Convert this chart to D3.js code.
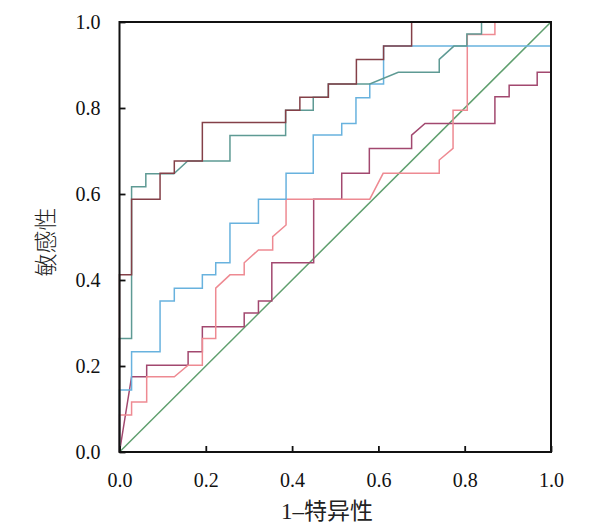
<!DOCTYPE html>
<html>
<head>
<meta charset="utf-8">
<script src="https://cdn.jsdelivr.net/npm/d3@7"></script>
<style>
  body { margin: 0; background: #fff; }
</style>
</head>
<body>
<svg id="drawing_region"></svg>
<script>
// ROC curves: x = 1 - specificity, y = sensitivity
const ticks = [0.0, 0.2, 0.4, 0.6, 0.8, 1.0];

const maroon_x = [0, 0, 0.028, 0.028, 0.094, 0.094, 0.127, 0.127, 0.192, 0.192, 0.385, 0.385, 0.418, 0.418, 0.484, 0.484, 0.549, 0.549, 0.612, 0.612, 0.677, 0.677, 1];
const maroon_y = [0, 0.412, 0.412, 0.588, 0.588, 0.648, 0.648, 0.677, 0.677, 0.766, 0.766, 0.795, 0.795, 0.825, 0.825, 0.856, 0.856, 0.913, 0.913, 0.944, 0.944, 1, 1];

const teal_x = [0, 0, 0.028, 0.028, 0.061, 0.061, 0.126, 0.158, 0.256, 0.256, 0.385, 0.385, 0.449, 0.449, 0.484, 0.484, 0.58, 0.646, 0.741, 0.741, 0.775, 0.805, 0.805, 0.839, 0.839, 1];
const teal_y = [0, 0.264, 0.264, 0.617, 0.617, 0.647, 0.647, 0.677, 0.677, 0.736, 0.736, 0.795, 0.795, 0.825, 0.825, 0.856, 0.856, 0.883, 0.883, 0.913, 0.944, 0.944, 0.972, 0.972, 1, 1];

const blue_x = [0, 0, 0.028, 0.028, 0.094, 0.094, 0.127, 0.127, 0.192, 0.192, 0.223, 0.223, 0.256, 0.256, 0.322, 0.322, 0.386, 0.386, 0.449, 0.449, 0.515, 0.515, 0.548, 0.548, 0.58, 0.58, 0.612, 0.612, 1];
const blue_y = [0, 0.144, 0.144, 0.233, 0.233, 0.351, 0.351, 0.381, 0.381, 0.412, 0.412, 0.44, 0.44, 0.532, 0.532, 0.588, 0.588, 0.648, 0.648, 0.737, 0.737, 0.764, 0.764, 0.824, 0.824, 0.856, 0.856, 0.944, 0.944];

const pink_x = [0, 0, 0.028, 0.028, 0.063, 0.063, 0.127, 0.159, 0.192, 0.192, 0.223, 0.223, 0.256, 0.289, 0.289, 0.322, 0.355, 0.355, 0.386, 0.386, 0.58, 0.611, 0.741, 0.741, 0.773, 0.773, 0.806, 0.806, 0.87, 0.87, 1];
const pink_y = [0, 0.086, 0.086, 0.116, 0.116, 0.175, 0.175, 0.202, 0.202, 0.264, 0.264, 0.381, 0.412, 0.412, 0.44, 0.47, 0.47, 0.501, 0.528, 0.588, 0.588, 0.648, 0.648, 0.679, 0.706, 0.795, 0.795, 0.971, 0.971, 1, 1];

const purple_x = [0, 0.028, 0.063, 0.063, 0.159, 0.159, 0.192, 0.192, 0.289, 0.289, 0.322, 0.322, 0.353, 0.353, 0.45, 0.45, 0.515, 0.515, 0.579, 0.579, 0.677, 0.677, 0.708, 0.87, 0.87, 0.903, 0.903, 0.968, 0.968, 1];
const purple_y = [0, 0.175, 0.175, 0.202, 0.202, 0.233, 0.233, 0.291, 0.291, 0.323, 0.323, 0.351, 0.351, 0.44, 0.44, 0.588, 0.588, 0.648, 0.648, 0.706, 0.706, 0.737, 0.764, 0.764, 0.826, 0.826, 0.853, 0.853, 0.883, 0.883];

const ref_x = [0, 1];
const ref_y = [0, 1];

const series = [
    { name: 'ref', xs: ref_x, ys: ref_y, color: '#5f9f6e' },
    { name: 'purple', xs: purple_x, ys: purple_y, color: '#a2486f' },
    { name: 'pink', xs: pink_x, ys: pink_y, color: '#ee8a92' },
    { name: 'blue', xs: blue_x, ys: blue_y, color: '#68b2de' },
    { name: 'teal', xs: teal_x, ys: teal_y, color: '#5e9a94' },
    { name: 'maroon', xs: maroon_x, ys: maroon_y, color: '#844048' }
];

class RocPlot {
    constructor( config, data ) {
        this.config = {
            parent: config.parent,
            width: config.width || 256,
            height: config.height || 256,
            margin: config.margin || {top:10, right:10, bottom:10, left:10}
        }
        this.data = data;
        this.init();
    }

    init() {
        let self = this;

        self.svg = d3.select( self.config.parent )
            .attr('width', self.config.width)
            .attr('height', self.config.height);

        self.chart = self.svg.append('g')
            .attr('transform', `translate(${self.config.margin.left}, ${self.config.margin.top})`);

        self.inner_width = self.config.width - self.config.margin.left - self.config.margin.right;
        self.inner_height = self.config.height - self.config.margin.top - self.config.margin.bottom;

        self.xscale = d3.scaleLinear()
            .domain([0, 1])
            .range([0, self.inner_width]);

        self.yscale = d3.scaleLinear()
            .domain([0, 1])
            .range([self.inner_height, 0]);

        // ticks point inward, labels in serif
        self.xaxis = d3.axisBottom( self.xscale )
            .tickValues( ticks )
            .tickFormat( d3.format('.1f') )
            .tickSizeInner(-6)
            .tickSizeOuter(0)
            .tickPadding(21);

        self.yaxis = d3.axisLeft( self.yscale )
            .tickValues( ticks )
            .tickFormat( d3.format('.1f') )
            .tickSizeInner(-6)
            .tickSizeOuter(0)
            .tickPadding(19);
    }

    render() {
        let self = this;

        const line = d3.line()
            .x( d => self.xscale(d[0]) )
            .y( d => self.yscale(d[1]) );

        self.chart.selectAll('path.curve')
            .data(self.data)
            .enter()
            .append('path')
            .attr('class', 'curve')
            .attr('fill', 'none')
            .attr('stroke', d => d.color)
            .attr('stroke-width', 1.5)
            .attr('d', d => line( d.xs.map( (x, i) => [x, d.ys[i]] ) ));

        const xg = self.chart.append('g')
            .attr('transform', `translate(0, ${self.inner_height})`)
            .call( self.xaxis );

        const yg = self.chart.append('g')
            .call( self.yaxis );

        [xg, yg].forEach( g => {
            g.select('.domain').remove();
            g.selectAll('.tick line').attr('stroke', '#111').attr('stroke-width', 1.8);
            g.selectAll('.tick text')
                .attr('fill', '#111')
                .style('font-family', '"Liberation Serif", "DejaVu Serif", serif')
                .style('font-size', '20px');
        });

        // frame
        self.chart.append('rect')
            .attr('x', 0)
            .attr('y', 0)
            .attr('width', self.inner_width)
            .attr('height', self.inner_height)
            .attr('fill', 'none')
            .attr('stroke', '#111')
            .attr('stroke-width', 2);

        self.svg.append('text')
            .attr('transform', `translate(54, 242) rotate(-90)`)
            .attr('text-anchor', 'middle')
            .attr('fill', '#222')
            .style('font-family', '"Noto Sans CJK SC", sans-serif')
            .style('font-weight', 300)
            .style('font-size', '23px')
            .text('敏感性');

        self.svg.append('text')
            .attr('x', 327)
            .attr('y', 519)
            .attr('text-anchor', 'middle')
            .attr('fill', '#222')
            .style('font-family', '"Liberation Serif", "Noto Sans CJK SC", serif')
            .style('font-size', '23px')
            .text('1–特异性');
    }
}

var config = {
    parent: '#drawing_region',
    width: 604,
    height: 530,
    margin: {top:22, right:53, bottom:78, left:119.5}
};

const roc_plot = new RocPlot( config, series );
roc_plot.render();
</script>
</body>
</html>
